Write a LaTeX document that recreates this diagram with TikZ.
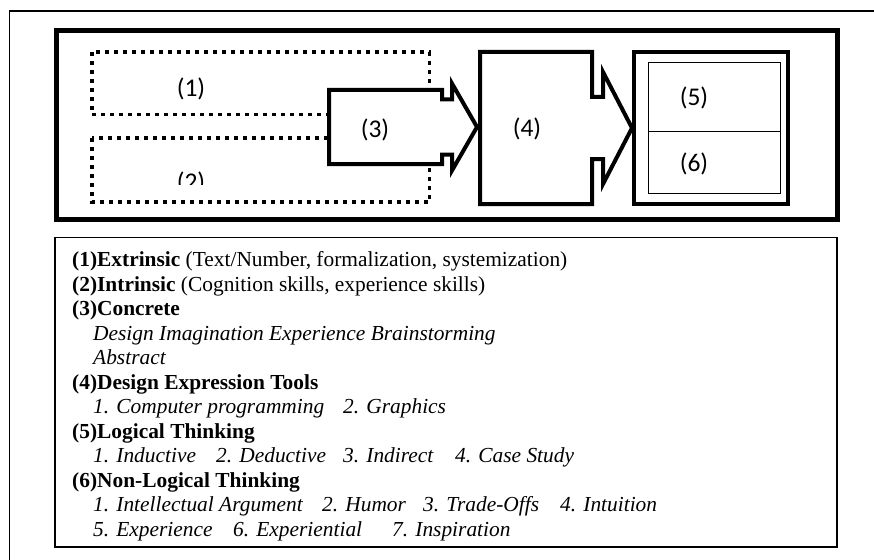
\documentclass[tikz,border=0pt]{standalone}
\usepackage{fontspec}
\setmainfont{Liberation Serif}
\newfontfamily\lblfont{Carlito}
\usetikzlibrary{positioning}
\tikzset{framebox/.style={line width=1.5pt}}
\tikzset{heavybox/.style={line width=5pt}}
\tikzset{blockline/.style={line width=4pt, line join=miter}}
\tikzset{dotbox/.style={line width=3.5pt, dash pattern=on 4pt off 5pt}}
\tikzset{thinbox/.style={line width=1.2pt}}
\tikzset{lbl/.style={font=\lblfont\fontsize{25.5}{26}\selectfont, inner sep=0pt}}
\tikzset{txt/.style={font=\fontsize{21.4}{24}\selectfont, inner sep=0pt, anchor=base west}}
\tikzset{itxt/.style={txt, font=\fontsize{21.4}{24}\selectfont\itshape}}

\begin{document}
\begin{tikzpicture}[x=1pt, y=-1pt]
  \useasboundingbox (0,0) rectangle (874,559);
  % outer frame, cut by the page
  \draw[framebox] (880,11) -- (9.5,11) -- (9.5,565);
  \draw[heavybox] (56,31) rectangle (837.5,219.5);

  % (1) and (2)
  \draw[dotbox] (92,52) rectangle (429.5,114.7);
  \draw[dotbox] (92,138) rectangle (429.5,202);
  \node[lbl] (l1) at (191,89) {(1)};
  \begin{scope}
    \clip (92,52) rectangle (429.5,184.5);
    \node[lbl] (l2) at (191,183) {(2)};
  \end{scope}

  % (4) block arrow
  \draw[blockline, fill=white] (480,52) -- (592,52) -- (592,97) -- (603,97) -- (603,72)
    -- (632,128) -- (603,184) -- (603,159) -- (592,159) -- (592,204) -- (480,204) -- cycle;
  \node[lbl] (l4) at (527,129) {(4)};

  % (3) block arrow
  \draw[blockline, fill=white] (329,90) -- (442,90) -- (442,99.5) -- (452,99.5) -- (452,83.5)
    -- (477,127) -- (452,170.5) -- (452,154.5) -- (442,154.5) -- (442,164) -- (329,164) -- cycle;
  \node[lbl] (l3) at (375,130) {(3)};

  % (5) and (6)
  \draw[blockline] (634,52) rectangle (788,204);
  \node[thinbox, draw, minimum width=132.3pt, minimum height=69.3pt, inner sep=0pt,
        anchor=north west] (b5) at (647.5,61.7) {};
  \node[thinbox, draw, minimum width=132.3pt, minimum height=62pt, inner sep=0pt,
        anchor=north west] (b6) at (647.5,131) {};
  \node[lbl] (l5) at (694,98) {(5)};
  \node[lbl] (l6) at (694,164) {(6)};

  % legend
  \draw[framebox] (55,237.7) rectangle (837,547);
  \node[txt] (t1) at (72,266.7) {\textbf{(1)Extrinsic} (Text/Number, formalization, systemization)};
  \node[txt] (t2) at (72,291.2) {\textbf{(2)Intrinsic} (Cognition skills, experience skills)};
  \node[txt] (t3) at (72,315.7) {\textbf{(3)Concrete}};
  \node[itxt] (t3a) at (93,340.1) {Design Imagination Experience Brainstorming};
  \node[itxt] (t3b) at (93,364.6) {Abstract};
  \node[txt] (t4) at (72,389.1) {\textbf{(4)Design Expression Tools}};
  \foreach \x/\s [count=\i] in {93/1. Computer programming, 343/2. Graphics}
    \node[itxt] (p\i) at (\x,413.6) {\s};
  \node[txt] (t5) at (72,438.1) {\textbf{(5)Logical Thinking}};
  \foreach \x/\s [count=\i] in {93/1. Inductive, 216/2. Deductive, 343/3. Indirect, 455/4. Case Study}
    \node[itxt] (q\i) at (\x,462.5) {\s};
  \node[txt] (t6) at (72,487.0) {\textbf{(6)Non-Logical Thinking}};
  \foreach \x/\s [count=\i] in {93/1. Intellectual Argument, 322/2. Humor, 423/3. Trade-Offs, 560/4. Intuition}
    \node[itxt] (r\i) at (\x,511.5) {\s};
  \foreach \x/\s [count=\i] in {93/5. Experience, 233/6. Experiential, 392/7. Inspiration}
    \node[itxt] (s\i) at (\x,536.0) {\s};
\end{tikzpicture}
\end{document}
